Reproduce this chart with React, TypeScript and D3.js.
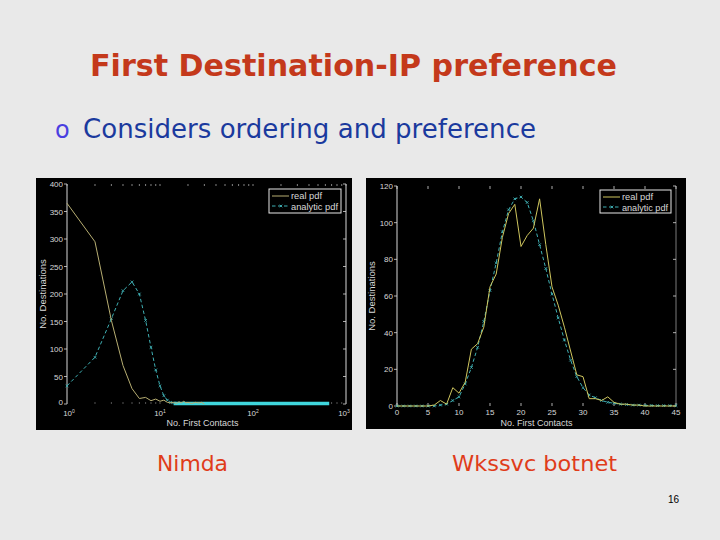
import React from "react";
import * as d3 from "d3";

// ---------- Data ----------
// Nimda (left): x = No. First Contacts (log axis), y = No. Destinations
const nimdaRealX = [1, 2, 3, 4, 5, 6, 7, 8, 9, 10, 11, 12, 13, 14, 15, 16, 17, 18, 19, 20, 22, 24, 26, 28, 30];
const nimdaRealY = [365, 295, 152, 70, 28, 10, 12, 6, 9, 5, 7, 3, 2, 3, 1, 4, 2, 5, 2, 3, 1, 3, 2, 3, 0];
const nimdaAnalyticX = [1, 2, 3, 4, 5, 6, 7, 8, 9, 10, 11, 12, 13, 14];
const nimdaAnalyticY = [33, 85, 155, 206, 222, 200, 152, 103, 62, 33, 15, 7, 3, 2];
const nimdaAnalyticTailX = [14, 660];
const nimdaAnalyticTailY = [1, 1];
const nimdaYTicks = [0, 50, 100, 150, 200, 250, 300, 350, 400];
const nimdaXTicks = [1, 10, 100, 1000];
const nimdaXTickExp = ["0", "1", "2", "3"];

// Wkssvc botnet (right)
const wkX = [0, 1, 2, 3, 4, 5, 6, 7, 8, 9, 10, 11, 12, 13, 14, 15, 16, 17, 18, 19, 20, 21, 22, 23, 24, 25, 26, 27, 28, 29, 30, 31, 32, 33, 34, 35, 36, 37, 38, 39, 40, 41, 42, 43, 44, 45];
const wkReal = [0, 0, 0, 0, 0, 0, 0.5, 3, 1, 10, 7, 13, 31, 34, 43, 65, 72, 92, 105, 110, 87, 93, 97, 113, 88, 65, 55, 43, 30, 17, 16, 4, 4, 3, 5, 2, 1, 1, 0.5, 0.5, 0, 0, 0, 0, 0, 0];
const wkAnalytic = [0, 0, 0, 0, 0, 0, 0, 0.5, 1, 3, 5, 12, 21, 32, 46, 63, 78, 95, 107, 113, 114, 111, 101, 88, 75, 61, 48, 36, 25, 16, 10, 6, 4.5, 3, 2, 1.5, 1, 0.8, 0.5, 0.5, 0.3, 0.3, 0.2, 0.2, 0.2, 0.2];
const wkXTicks = [0, 5, 10, 15, 20, 25, 30, 35, 40, 45];
const wkYTicks = [0, 20, 40, 60, 80, 100, 120];

const legendLabels = ["real pdf", "analytic pdf"];
const xLabel = "No. First Contacts";
const yLabel = "No. Destinations";

// ---------- Styles ----------
const BG = "#e9e9e9";
const REAL_L = "#b7ae72";
const REAL_R = "#cfc65e";
const ANA = "#3fb0b4";
const TAIL = "#3fd6dc";
const AX = "#d8d8d8";
const TXT = "#d8d8d8";
const TF = "Liberation Sans, Arial, sans-serif";
const SLIDE_FONT = "'Comic Sans MS', 'DejaVu Sans', sans-serif";

function Cross({ x, y, c }: { x: number; y: number; c: string }) {
  const s = 1.3;
  return (
    <path d={`M${x - s},${y - s}L${x + s},${y + s}M${x - s},${y + s}L${x + s},${y - s}`} stroke={c} strokeWidth={0.9} />
  );
}

function Legend({ x, y, w, h, realColor }: { x: number; y: number; w: number; h: number; realColor: string }) {
  return (
    <g>
      <rect x={x} y={y} width={w} height={h} fill="#000" stroke="#e8e8e8" strokeWidth={1} />
      <line x1={x + 3} x2={x + 20} y1={y + 7} y2={y + 7} stroke={realColor} strokeWidth={1} />
      <line x1={x + 3} x2={x + 20} y1={y + 17} y2={y + 17} stroke={ANA} strokeWidth={1} strokeDasharray="3.5,2.5" />
      <Cross x={x + 12} y={y + 17} c={ANA} />
      <text x={x + 22} y={y + 10} fontSize={9.5} fill={TXT} fontFamily={TF} textLength={31} lengthAdjust="spacingAndGlyphs">{legendLabels[0]}</text>
      <text x={x + 22} y={y + 20.5} fontSize={9.5} fill={TXT} fontFamily={TF} textLength={w - 25} lengthAdjust="spacingAndGlyphs">{legendLabels[1]}</text>
    </g>
  );
}

function NimdaChart() {
  const x = d3.scaleLog().domain([1, 1000]).range([67, 346]);
  const y = d3.scaleLinear().domain([0, 400]).range([404, 184]);
  const realPts: [number, number][] = nimdaRealX.map((v, i) => [x(v), y(nimdaRealY[i])]);
  const anaPts: [number, number][] = nimdaAnalyticX.map((v, i) => [x(v), y(nimdaAnalyticY[i])]);
  const tailPts: [number, number][] = nimdaAnalyticTailX.map((v, i) => [x(v), y(nimdaAnalyticTailY[i])]);
  const line = d3.line();
  const minor: number[] = [];
  [1, 10, 100].forEach((d) => {
    for (let k = 2; k <= 9; k++) minor.push(d * k);
  });
  const [x0, x1] = x.range();
  const [yb, yt] = y.range();
  return (
    <g>
      <rect x={36} y={178} width={316} height={252} fill="#000" />
      <line x1={x0} x2={x0} y1={yt} y2={yb} stroke={AX} strokeWidth={1} />
      <line x1={x1} x2={x1} y1={yt} y2={yb} stroke={AX} strokeWidth={1} />
      {nimdaYTicks.map((t) => (
        <g key={t}>
          <line x1={x0 - 3} x2={x0} y1={y(t)} y2={y(t)} stroke={AX} strokeWidth={0.8} />
          <line x1={x1 - 3} x2={x1} y1={y(t)} y2={y(t)} stroke={AX} strokeWidth={0.8} />
          <text x={x0 - 4} y={y(t) + (t === 0 ? 1 : 3)} fontSize={8} textAnchor="end" fill={TXT} fontFamily={TF}>{t}</text>
        </g>
      ))}
      {minor.concat(nimdaXTicks).map((t) => (
        <g key={"m" + t}>
          <line x1={x(t)} x2={x(t)} y1={yt} y2={yt + 2} stroke="#bbb" strokeWidth={0.7} />
          <line x1={x(t)} x2={x(t)} y1={yb} y2={yb - 2} stroke="#777" strokeWidth={0.7} />
        </g>
      ))}
      {nimdaXTicks.map((t, i) => (
        <text key={"xt" + t} x={x(t) + (i === 0 ? 2 : i === 3 ? -2 : 0)} y={yb + 12} fontSize={8} textAnchor="middle" fill={TXT} fontFamily={TF}>
          10<tspan dy={-3.5} fontSize={5}>{nimdaXTickExp[i]}</tspan>
        </text>
      ))}
      <text x={(x0 + x1) / 2 - 4} y={426} fontSize={9} textAnchor="middle" fill={TXT} fontFamily={TF}>{xLabel}</text>
      <text transform={`translate(46,${(yt + yb) / 2}) rotate(-90)`} fontSize={9.5} textAnchor="middle" fill={TXT} fontFamily={TF}>{yLabel}</text>
      <path d={line(tailPts) || ""} stroke={TAIL} strokeWidth={3.5} fill="none" />
      <path d={line(anaPts) || ""} stroke={ANA} strokeWidth={1} fill="none" strokeDasharray="3.5,2.5" />
      {anaPts.map((p, i) => <Cross key={"a" + i} x={p[0]} y={p[1]} c={ANA} />)}
      <path d={line(realPts) || ""} stroke={REAL_L} strokeWidth={1} fill="none" />
      <Legend x={269} y={189} w={72} h={24} realColor={REAL_L} />
    </g>
  );
}

function WkChart() {
  const x = d3.scaleLinear().domain([0, 45]).range([397, 676]);
  const y = d3.scaleLinear().domain([0, 120]).range([406, 186]);
  const realPts: [number, number][] = wkX.map((v, i) => [x(v), y(wkReal[i])]);
  const anaPts: [number, number][] = wkX.map((v, i) => [x(v), y(wkAnalytic[i])]);
  const line = d3.line();
  const [x0, x1] = x.range();
  const [yb, yt] = y.range();
  return (
    <g>
      <rect x={366} y={178} width={320} height={251} fill="#000" />
      <line x1={x0} x2={x0} y1={yt} y2={yb} stroke={AX} strokeWidth={1} />
      <line x1={x1} x2={x1} y1={yt} y2={yb} stroke="#9a9a9a" strokeWidth={0.8} />
      {wkYTicks.map((t) => (
        <g key={t}>
          <line x1={x0 - 3} x2={x0} y1={y(t)} y2={y(t)} stroke={AX} strokeWidth={0.8} />
          <line x1={x1 - 3} x2={x1} y1={y(t)} y2={y(t)} stroke={AX} strokeWidth={0.8} />
          <text x={x0 - 4} y={y(t) + 3} fontSize={8} textAnchor="end" fill={TXT} fontFamily={TF}>{t}</text>
        </g>
      ))}
      {wkXTicks.map((t) => (
        <g key={"x" + t}>
          <line x1={x(t)} x2={x(t)} y1={yt} y2={yt + 3} stroke={AX} strokeWidth={0.8} />
          <line x1={x(t)} x2={x(t)} y1={yb} y2={yb - 3} stroke={AX} strokeWidth={0.8} />
          <text x={x(t)} y={yb + 9} fontSize={8} textAnchor="middle" fill={TXT} fontFamily={TF}>{t}</text>
        </g>
      ))}
      <text x={(x0 + x1) / 2} y={426} fontSize={9} textAnchor="middle" fill={TXT} fontFamily={TF}>{xLabel}</text>
      <text transform={`translate(375,${(yt + yb) / 2}) rotate(-90)`} fontSize={9.5} textAnchor="middle" fill={TXT} fontFamily={TF}>{yLabel}</text>
      <path d={line(anaPts) || ""} stroke={ANA} strokeWidth={1} fill="none" strokeDasharray="3.5,2.5" />
      {anaPts.map((p, i) => <Cross key={"a" + i} x={p[0]} y={p[1]} c={ANA} />)}
      <path d={line(realPts) || ""} stroke={REAL_R} strokeWidth={1} fill="none" />
      <Legend x={600} y={190} w={71} h={23} realColor={REAL_R} />
    </g>
  );
}

export default function App() {
  return (
    <svg width={720} height={540} style={{ position: "absolute", left: 0, top: 0 }}>
      <rect x={0} y={0} width={720} height={540} fill={BG} />
      <text x={90} y={76} fontSize={30} fontWeight="bold" fill="#c4391b" fontFamily={SLIDE_FONT} textLength={527} lengthAdjust="spacingAndGlyphs">
        First Destination-IP preference
      </text>
      <text x={55} y={138} fontSize={24} fill="#4a3fe0" fontFamily={SLIDE_FONT}>o</text>
      <text x={83} y={138} fontSize={26} fill="#1b3a9e" fontFamily={SLIDE_FONT} textLength={453} lengthAdjust="spacingAndGlyphs">
        Considers ordering and preference
      </text>
      <NimdaChart />
      <WkChart />
      <text x={157} y={471} fontSize={22} fill="#e03c1a" fontFamily={SLIDE_FONT} textLength={71} lengthAdjust="spacingAndGlyphs">Nimda</text>
      <text x={452} y={471} fontSize={22} fill="#e03c1a" fontFamily={SLIDE_FONT} textLength={165} lengthAdjust="spacingAndGlyphs">Wkssvc botnet</text>
      <text x={668} y={503} fontSize={10} fill="#000" fontFamily={TF}>16</text>
    </svg>
  );
}
